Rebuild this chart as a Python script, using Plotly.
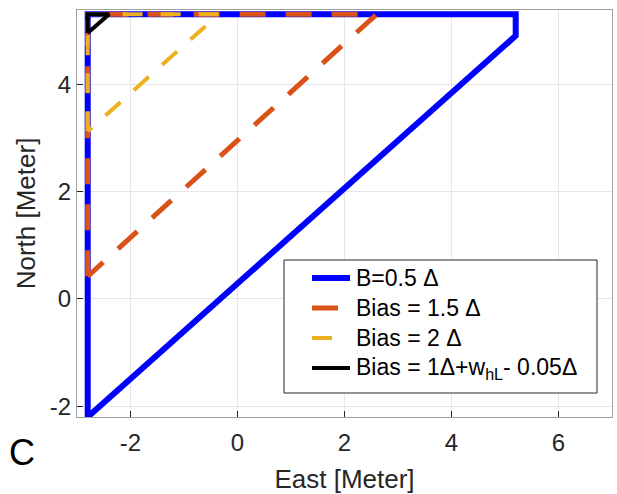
import plotly.graph_objects as go

# Region boundaries in local East/North coordinates (meters)
blue_east = [-2.8, -2.8, 5.2, 5.2, -2.8]
blue_north = [-2.2, 5.3, 5.3, 4.9, -2.2]

orange_east = [-2.8, -2.8, 2.6, -2.8]
orange_north = [0.42, 5.3, 5.3, 0.42]

yellow_east = [-2.8, -2.8, -0.35, -2.8]
yellow_north = [3.12, 5.3, 5.3, 3.12]

black_east = [-2.8, -2.8, -2.4, -2.8]
black_north = [4.95, 5.3, 5.3, 4.95]

series_names = [
    "B=0.5 Δ",
    "Bias = 1.5 Δ",
    "Bias = 2 Δ",
    "Bias = 1Δ+w<sub>hL</sub>- 0.05Δ",
]

x_ticks = [-2, 0, 2, 4, 6]
y_ticks = [-2, 0, 2, 4]

FONT = "Liberation Sans, Arial"
TEXT_COLOR = "#262626"

W, H = 617, 494
M_L, M_R, M_T, M_B = 77, 5, 10, 77
PLOT_W = W - M_L - M_R
PLOT_H = H - M_T - M_B


def px_to_paper(px, py):
    return (px - M_L) / PLOT_W, (H - M_B - py) / PLOT_H


styles = [
    dict(color="#0000FF", width=6, dash="solid", sample=38),
    dict(color="#D95319", width=5, dash="26px,20px", sample=26),
    dict(color="#EDB120", width=4, dash="20px,18px", sample=20),
    dict(color="#000000", width=4, dash="solid", sample=38),
]
paths = [(blue_east, blue_north), (orange_east, orange_north),
         (yellow_east, yellow_north), (black_east, black_north)]

fig = go.Figure()
for (xs, ys), name, st in zip(paths, series_names, styles):
    fig.add_trace(go.Scatter(x=xs, y=ys, mode="lines", name=name, showlegend=False,
                             line=dict(color=st["color"], width=st["width"], dash=st["dash"])))

axis_common = dict(
    showgrid=True, gridcolor="#E6E6E6", gridwidth=1,
    zeroline=False, showline=True, linecolor="#A0A0A0", linewidth=1, mirror=True,
    ticks="inside", ticklen=6, tickcolor="#262626", automargin=False,
    tickfont=dict(family=FONT, size=24, color=TEXT_COLOR),
)

fig.update_xaxes(range=[-3, 7], tickvals=x_ticks, ticktext=[str(v) for v in x_ticks],
                 ticklabelstandoff=4,
                 title=dict(text="East [Meter]", font=dict(family=FONT, size=26, color=TEXT_COLOR), standoff=24),
                 **axis_common)
fig.update_yaxes(range=[-2.2, 5.38], tickvals=y_ticks, ticktext=[str(v) for v in y_ticks],
                 title=dict(text="North [Meter]", font=dict(family=FONT, size=26, color=TEXT_COLOR), standoff=6),
                 **axis_common)

fig.add_annotation(text="C", xref="paper", yref="paper", x=-0.102, y=-0.088,
                   xanchor="center", yanchor="middle", showarrow=False,
                   font=dict(family=FONT, size=36, color="#000000"))

# Legend box with line samples and labels
x0, y0 = px_to_paper(284, 260)
x1, y1 = px_to_paper(597, 393)
fig.add_shape(type="rect", xref="paper", yref="paper", x0=x0, y0=y1, x1=x1, y1=y0,
              line=dict(color="#262626", width=1), fillcolor="white", layer="above")
row_y = [278, 308, 338, 368]
for ry, name, st in zip(row_y, series_names, styles):
    sx0, sy = px_to_paper(312, ry)
    sx1, _ = px_to_paper(312 + st["sample"], ry)
    fig.add_shape(type="line", xref="paper", yref="paper", x0=sx0, x1=sx1, y0=sy, y1=sy,
                  line=dict(color=st["color"], width=st["width"]), layer="above")
    tx, _ = px_to_paper(354, ry)
    fig.add_annotation(text=name, xref="paper", yref="paper", x=tx, y=sy,
                       xanchor="left", yanchor="middle", showarrow=False,
                       font=dict(family=FONT, size=23, color="#000000"))

fig.update_layout(
    width=W, height=H,
    margin=dict(l=M_L, r=M_R, t=M_T, b=M_B),
    plot_bgcolor="white", paper_bgcolor="white",
)

fig.write_html("out.html")
